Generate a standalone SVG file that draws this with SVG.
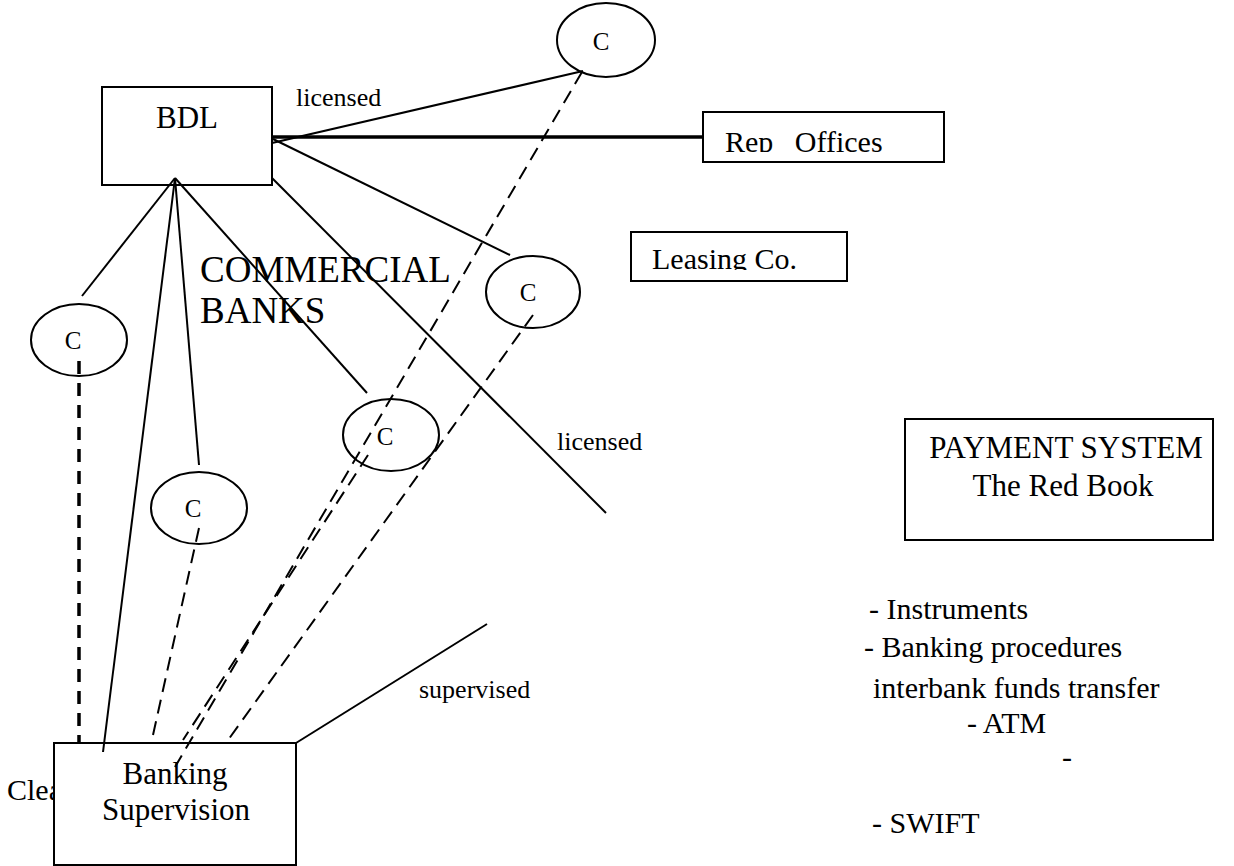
<svg xmlns="http://www.w3.org/2000/svg" width="1234" height="866" viewBox="0 0 1234 866">
<style>
  text { font-family: "Liberation Serif", "Times New Roman", serif; fill: #000; }
  .t30 { font-size: 30px; }
  .t31 { font-size: 31px; }
  .t26 { font-size: 26px; }
  .tc { font-size: 25px; text-anchor: middle; }
  .box { fill: #fff; stroke: #000; stroke-width: 2; }
  .ell { fill: none; stroke: #000; stroke-width: 2; }
  .solid { stroke: #000; stroke-width: 2; fill: none; }
  .thick { stroke: #000; stroke-width: 3.5; fill: none; }
  .dash { stroke: #000; stroke-width: 2; stroke-dasharray: 14 8; fill: none; }
  .dashb { stroke: #000; stroke-width: 3.5; stroke-dasharray: 13 9; fill: none; }
</style>
<defs>
  <clipPath id="clipRep"><rect x="703" y="112" width="241" height="40"/></clipPath>
  <clipPath id="clipLease"><rect x="631" y="232" width="216" height="38"/></clipPath>
</defs>

<text id="clea" class="t30" x="7" y="800">Clea</text>

<g id="banking-supervision">
  <rect class="box" x="54" y="743" width="242" height="122"/>
  <text class="t31" x="175" y="784" text-anchor="middle">Banking</text>
  <text class="t31" x="176" y="820" text-anchor="middle">Supervision</text>
</g>

<g id="connectors">
  <line class="solid" x1="272" y1="143" x2="583" y2="71"/>
  <line class="thick" x1="272" y1="137" x2="703" y2="137"/>
  <line class="solid" x1="273" y1="139" x2="510" y2="255"/>
  <line class="solid" x1="272" y1="178" x2="606" y2="513"/>
  <line class="solid" x1="175" y1="178" x2="82" y2="296"/>
  <line class="solid" x1="175" y1="178" x2="103" y2="752"/>
  <line class="solid" x1="175" y1="178" x2="199" y2="465"/>
  <line class="solid" x1="175" y1="178" x2="367" y2="393"/>
  <line class="solid" x1="296" y1="743" x2="487" y2="624"/>
  <line class="dashb" x1="79" y1="361" x2="79" y2="743"/>
  <line class="dash" x1="199" y1="528" x2="153" y2="735"/>
  <line class="dash" x1="582" y1="72" x2="175" y2="767"/>
  <line class="dash" x1="368" y1="455" x2="183" y2="740"/>
  <line class="dash" x1="533" y1="315" x2="226" y2="743"/>
</g>

<g id="bdl">
  <rect class="box" x="102" y="87" width="170" height="98" style="fill:none"/>
  <text class="t31" x="187" y="128" text-anchor="middle">BDL</text>
</g>

<g id="rep-offices">
  <rect class="box" x="703" y="112" width="241" height="50"/>
  <text class="t30" x="725" y="152" clip-path="url(#clipRep)" word-spacing="14">Rep Offices</text>
</g>

<g id="leasing-co">
  <rect class="box" x="631" y="232" width="216" height="49"/>
  <text class="t30" x="652" y="269" clip-path="url(#clipLease)">Leasing Co.</text>
</g>

<g id="payment-system">
  <rect class="box" x="905" y="419" width="308" height="121"/>
  <text class="t31" x="1066" y="458" text-anchor="middle">PAYMENT SYSTEM</text>
  <text class="t31" x="1063" y="496" text-anchor="middle">The Red Book</text>
</g>

<g id="c-top"><ellipse class="ell" cx="606" cy="40" rx="49" ry="37"/><text class="tc" x="601" y="50">C</text></g>
<g id="c-left"><ellipse class="ell" cx="79" cy="340" rx="48" ry="36"/><text class="tc" x="73" y="349">C</text></g>
<g id="c-low"><ellipse class="ell" cx="199" cy="508" rx="48" ry="36"/><text class="tc" x="193" y="517">C</text></g>
<g id="c-mid"><ellipse class="ell" cx="391" cy="435" rx="48" ry="36"/><text class="tc" x="385" y="445">C</text></g>
<g id="c-right"><ellipse class="ell" cx="533" cy="292" rx="47" ry="36"/><text class="tc" x="528" y="301">C</text></g>

<g id="labels">
  <text class="t26" x="296" y="106">licensed</text>
  <text class="t26" x="557" y="450">licensed</text>
  <text class="t26" x="419" y="698">supervised</text>
  <text style="font-size:37px" x="200" y="282">COMMERCIAL</text>
  <text style="font-size:37px" x="200" y="323">BANKS</text>
</g>

<g id="list">
  <text class="t30" x="869" y="619">- Instruments</text>
  <text class="t30" x="864" y="657">- Banking procedures</text>
  <text class="t30" x="873" y="698">interbank funds transfer</text>
  <text class="t30" x="967" y="733">- ATM</text>
  <text class="t30" x="1062" y="767">-</text>
  <text class="t30" x="872" y="833">- SWIFT</text>
</g>
</svg>
